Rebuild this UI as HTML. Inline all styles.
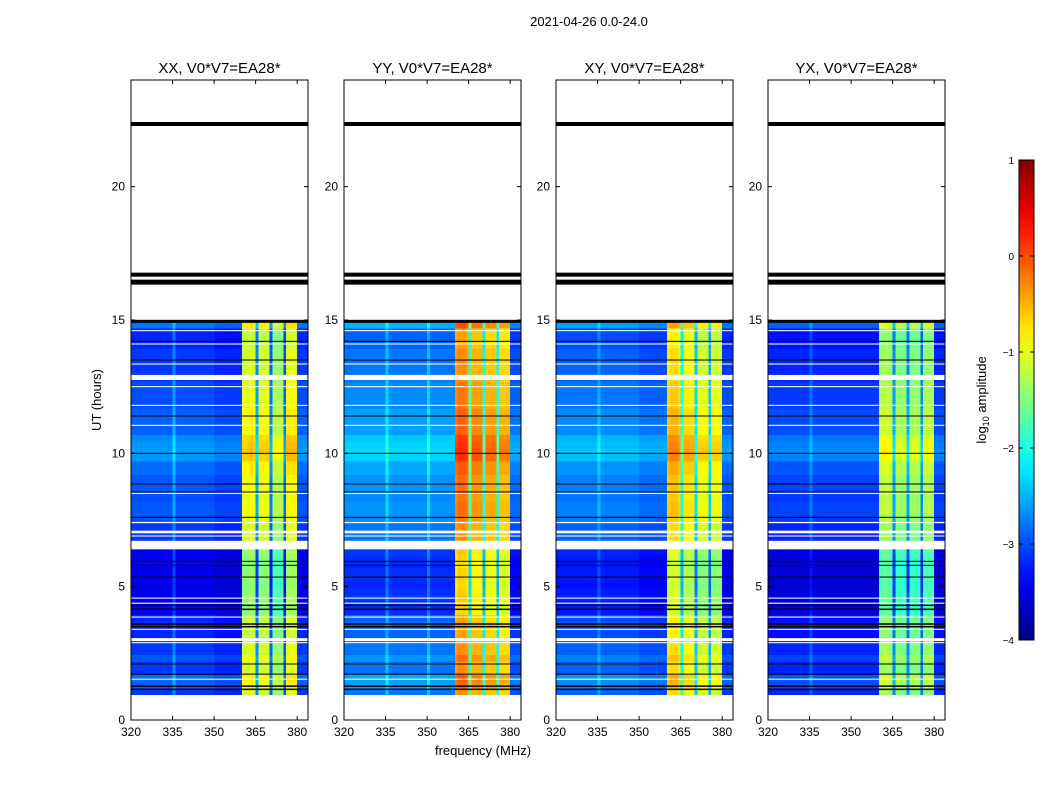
<!DOCTYPE html>
<html><head><meta charset="utf-8"><style>
body{margin:0;background:#fff;}
svg text{font-family:"Liberation Sans",sans-serif;fill:#000;}
</style></head><body>
<svg id="fig" width="1050" height="800" xmlns="http://www.w3.org/2000/svg">
<rect width="1050" height="800" fill="#fff"/>
<text x="589" y="26" font-size="13" text-anchor="middle">2021-04-26 0.0-24.0</text>
<text transform="translate(101,400) rotate(-90)" font-size="13" text-anchor="middle">UT (hours)</text>
<text x="483" y="755" font-size="13" text-anchor="middle">frequency (MHz)</text>
<g id="panels"></g>
<g id="cbar"></g>
</svg>
<script>
const panelNames = ["XX, V0*V7=EA28*","YY, V0*V7=EA28*","XY, V0*V7=EA28*","YX, V0*V7=EA28*"];
const xTicks = [320,335,350,365,380];
const yTicks = [0,5,10,15,20];
const cbarTicks = [1,0,-1,-2,-3,-4];
const freqStart = 320;   // MHz, 1 MHz bins
const timeStart = 0.95;  // hours, 0.25 h rows
const timeProfile = [-0.1,0.1,0.15,-0.1,-0.1,0.05,-0.1,-0.1,-0.2,-0.2,-0.15,-0.2,-0.45,-0.45,-0.4,-0.45,-0.5,-0.45,-0.45,-0.5,-0.45,-0.4,-0.1,-0.1,-0.1,-0.1,0.0,0.05,0.05,0.0,0.05,0.05,0.05,0.15,0.15,0.35,0.4,0.35,0.3,0.1,0.1,0.1,0.1,0.0,0.0,0.0,0.0,-0.1,-0.1,-0.1,-0.1,-0.1,-0.2,-0.2,-0.2,0.2];
const freqXX = [-3,-3,-3,-3,-3,-3,-3,-3,-3,-3,-3,-3,-3,-3,-3,-2.6,-3,-3,-3,-3,-3,-3,-3,-3,-3,-3,-3,-3,-3,-3,-3.1,-3.1,-3.1,-3.1,-3.1,-3.1,-3.1,-3.1,-3.1,-3.1,-1,-1,-1,-0.9,-1,-2.6,-1,-1,-1,-1,-2.8,-1.3,-1.3,-1.3,-1.3,-2.9,-0.9,-0.9,-0.9,-0.9,-3,-3,-3,-3];
const freqYY = [-2.7,-2.7,-2.7,-2.7,-2.7,-2.7,-2.7,-2.7,-2.7,-2.7,-2.7,-2.7,-2.7,-2.7,-2.7,-2.3,-2.7,-2.7,-2.7,-2.7,-2.7,-2.7,-2.7,-2.7,-2.7,-2.7,-2.7,-2.7,-2.7,-2.7,-2.3,-2.7,-2.7,-2.7,-2.7,-2.7,-2.7,-2.7,-2.7,-2.7,-0.3,-0.2,-0.2,-0.2,-0.3,-1.8,-0.4,-0.4,-0.4,-0.4,-2.0,-0.5,-0.5,-0.5,-0.5,-2.0,-0.6,-0.6,-0.6,-0.6,-2.9,-2.9,-2.9,-2.9];
const freqXY = [-2.8,-2.8,-2.8,-2.8,-2.8,-2.8,-2.8,-2.8,-2.8,-2.8,-2.8,-2.8,-2.8,-2.8,-2.8,-2.5,-2.8,-2.8,-2.8,-2.8,-2.8,-2.8,-2.8,-2.8,-2.8,-2.8,-2.8,-2.8,-2.8,-2.8,-2.9,-2.9,-2.9,-2.9,-2.9,-2.9,-2.9,-2.9,-2.9,-2.9,-0.7,-0.6,-0.6,-0.6,-0.7,-2.0,-0.8,-0.8,-0.8,-0.8,-2.3,-1.0,-1.0,-1.0,-1.0,-2.4,-1.0,-1.0,-1.0,-1.0,-3,-3,-3,-3];
const freqYX = [-3.1,-3.1,-3.1,-3.1,-3.1,-3.1,-3.1,-3.1,-3.1,-3.1,-3.1,-3.1,-3.1,-3.1,-3.1,-2.8,-3.1,-3.1,-3.1,-3.1,-3.1,-3.1,-3.1,-3.1,-3.1,-3.1,-3.1,-3.1,-3.1,-3.1,-3.1,-3.1,-3.1,-3.1,-3.1,-3.1,-3.1,-3.1,-3.1,-3.1,-1.3,-1.2,-1.2,-1.2,-1.3,-2.6,-1.4,-1.4,-1.4,-1.4,-2.6,-1.4,-1.4,-1.4,-1.4,-2.7,-1.3,-1.3,-1.3,-1.3,-3.1,-3.1,-3.1,-3.1];
const freqProfiles = [freqXX,freqYY,freqXY,freqYX];
const whiteGaps = [[12.75,12.94],[14.58,14.62],[14.08,14.12],[13.33,13.37],[12.48,12.52],[11.78,11.82],[11.03,11.07],[8.48,8.52],[7.38,7.43],[7.0,7.1],[6.88,6.92],[6.4,6.72],[4.55,4.59],[4.36,4.4],[3.84,3.88],[3.38,3.42],[2.96,3.07],[2.88,2.92],[1.51,1.55]];
const blackLines = [[22.35,4],[16.7,4],[16.42,5],[14.95,3],[14.2,1],[13.5,1],[11.4,1],[10.0,1],[8.85,1],[8.55,1],[7.6,1],[5.95,1],[5.8,1],[5.36,1],[4.3,1.5],[4.15,1.5],[3.6,1.5],[3.5,1.5],[2.1,1],[1.72,1],[1.27,1.5],[1.15,1.5]];
const panelLeft = [131,344,556,768];
const PW = 177, PT = 80, PB = 720, FMIN = 320, FMAX = 383.9, TMAX = 24;
const NS = "http://www.w3.org/2000/svg";
function el(tag, attrs, parent){const e=document.createElementNS(NS,tag);for(const k in attrs)e.setAttribute(k,attrs[k]);parent.appendChild(e);return e;}
function jet(v){
  let t=(v+4)/5; t=Math.max(0,Math.min(1,t));
  const f=(x)=>Math.max(0,Math.min(1,1.5-Math.abs(4*t-x)));
  return `rgb(${Math.round(255*f(3))},${Math.round(255*f(2))},${Math.round(255*f(1))})`;
}
const ys = h => PB - (h/TMAX)*(PB-PT);
const panels = document.getElementById('panels');
panelNames.forEach((name,p)=>{
  const L = panelLeft[p];
  const xs = f => L + (f-FMIN)/(FMAX-FMIN)*PW;
  const g = el('g',{},panels);
  
  
  const hm = el('g',{'shape-rendering':'crispEdges'},g);
  
  
  const fp = freqProfiles[p];
  timeProfile.forEach((tv,ti)=>{
    const t0=timeStart+ti*0.25, t1=t0+0.25;
    fp.forEach((fv,fi)=>{
      const f0=freqStart+fi, f1=f0+1;
      const x0=xs(f0), x1=Math.min(xs(f1),L+PW);
      const r = el('rect',{x:x0,y:ys(t1),width:x1-x0+0.3,height:ys(t0)-ys(t1)+0.3,fill:jet(fv+tv)},hm);
      
      
    });
  });
  whiteGaps.forEach(w=>{
    const r=el('rect',{x:L,y:ys(w[1]),width:PW,height:ys(w[0])-ys(w[1]),fill:'#fff'},g);
    
    
  });
  blackLines.forEach(b=>{
    const r=el('rect',{x:L,y:ys(b[0])-b[1]/2,width:PW,height:b[1],fill:'#000'},g);
    
    
  });
  const fr=el('rect',{x:L,y:PT,width:PW,height:PB-PT,fill:'none',stroke:'#000','stroke-width':1},g);
  
  
  const tt=el('text',{x:L+PW/2,y:PT-7,'font-size':15,'text-anchor':'middle'},g); tt.textContent=name;
  
  
  xTicks.forEach(v=>{
    const x=xs(v);
    el('line',{x1:x,x2:x,y1:PB,y2:PB-4,stroke:'#000'},g);
    el('line',{x1:x,x2:x,y1:PT,y2:PT+4,stroke:'#000'},g);
    const t=el('text',{x:x,y:PB+16,'font-size':12,'text-anchor':'middle'},g); t.textContent=v;
    
    
  });
  yTicks.forEach(v=>{
    const y=ys(v);
    el('line',{x1:L,x2:L+4,y1:y,y2:y,stroke:'#000'},g);
    el('line',{x1:L+PW,x2:L+PW-4,y1:y,y2:y,stroke:'#000'},g);
    const t=el('text',{x:L-6,y:y+4,'font-size':12,'text-anchor':'end'},g); t.textContent=v;
    
    
  });
});
const cb = document.getElementById('cbar');


const CBX=1019, CBW=15, CBT=160, CBB=640;
const cy = v => CBB - (v+4)/5*(CBB-CBT);
const defs = el('defs',{},cb);
const lg = el('linearGradient',{id:'jetg',x1:0,y1:1,x2:0,y2:0},defs);
for(let i=0;i<=20;i++){el('stop',{offset:i/20,'stop-color':jet(-4+5*i/20)},lg);}
el('rect',{x:CBX,y:CBT,width:CBW,height:CBB-CBT,fill:'url(#jetg)',stroke:'#000'},cb);
cbarTicks.forEach(v=>{
  const y=cy(v);
  el('line',{x1:CBX,x2:CBX+4,y1:y,y2:y,stroke:'#000'},cb);
  el('line',{x1:CBX+CBW,x2:CBX+CBW-4,y1:y,y2:y,stroke:'#000'},cb);
  const t=el('text',{x:CBX-5,y:y+4,'font-size':10,'text-anchor':'end'},cb);
  t.textContent = v<0 ? '\u2212'+(-v) : String(v);
  
  
});
const cl = el('text',{transform:'translate(986,400) rotate(-90)','font-size':13,'text-anchor':'middle'},cb);
cl.innerHTML='log<tspan font-size="9" dy="3">10</tspan><tspan dy="-3"> amplitude</tspan>';


</script>
</body></html>
